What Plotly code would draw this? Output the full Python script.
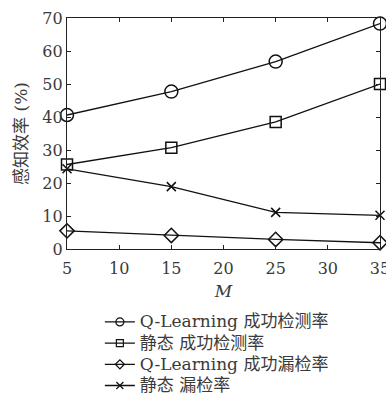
import plotly.graph_objects as go

# Number of users M
m_values = [5, 15, 25, 35]

# Sensing efficiency (%) per scheme
ql_detect = [40.6, 47.7, 56.8, 68.3]
static_detect = [25.6, 30.7, 38.5, 50.0]
ql_miss = [5.5, 4.1, 2.9, 1.9]
static_miss = [24.3, 18.9, 11.1, 10.2]

series_names = [
    "Q-Learning 成功检测率",
    "静态 成功检测率",
    "Q-Learning 成功漏检率",
    "静态 漏检率",
]
x_ticks = [5, 10, 15, 20, 25, 30, 35]
y_ticks = [0, 10, 20, 30, 40, 50, 60, 70]

serif = "DejaVu Serif, Liberation Serif, serif"
mixed = "DejaVu Serif, Noto Sans CJK SC, serif"
ink = "#111"
text_col = "#3a3a3a"

# (symbol, plot marker size, legend marker size)
styles = [
    ("circle-open", 13, 8),
    ("square-open", 11, 7),
    ("diamond-open", 11, 7),
    ("x-thin-open", 9, 7),
]

fig = go.Figure()
for name, ys, (sym, size, lsize) in zip(
        series_names, [ql_detect, static_detect, ql_miss, static_miss], styles):
    fig.add_trace(go.Scatter(
        x=m_values, y=ys, name=name, mode="lines+markers", showlegend=False,
        line=dict(color=ink, width=1.3),
        marker=dict(symbol=sym, size=size, color=ink, line=dict(color=ink, width=1.5)),
        cliponaxis=False,
    ))
    # legend entry with smaller glyphs and larger label text
    fig.add_trace(go.Scatter(
        x=[None], y=[None],
        name=f'<span style="font-size:17px">{name}</span>',
        mode="lines+markers",
        line=dict(color=ink, width=1.3),
        marker=dict(symbol=sym, size=lsize, color=ink, line=dict(color=ink, width=1.2)),
    ))

axis_common = dict(
    showline=True, linecolor="#222", linewidth=1.3, mirror="ticks",
    ticks="inside", ticklen=4, tickcolor="#222", showgrid=False,
    zeroline=False, ticklabeloverflow="allow",
    tickfont=dict(family=serif, size=16, color=text_col),
)

fig.update_layout(
    width=386, height=397,
    margin=dict(l=67, r=6, t=18, b=148, autoexpand=False),
    paper_bgcolor="white", plot_bgcolor="white",
    xaxis=dict(range=[5, 35], tickvals=x_ticks, ticklabelstandoff=5,
               title=dict(text="<i>M</i>", font=dict(family=serif, size=17, color=text_col),
                          standoff=7),
               **axis_common),
    yaxis=dict(range=[0, 70], tickvals=y_ticks,
               title=dict(text="感知效率 (%)", font=dict(family=mixed, size=17, color=text_col),
                          standoff=10),
               **axis_common),
    legend=dict(x=0.105, y=-0.248, xanchor="left", yanchor="top",
                font=dict(family=mixed, size=14, color=text_col),
                tracegroupgap=0, itemwidth=30, bgcolor="rgba(0,0,0,0)"),
    showlegend=True,
)

fig.write_html("out.html")
